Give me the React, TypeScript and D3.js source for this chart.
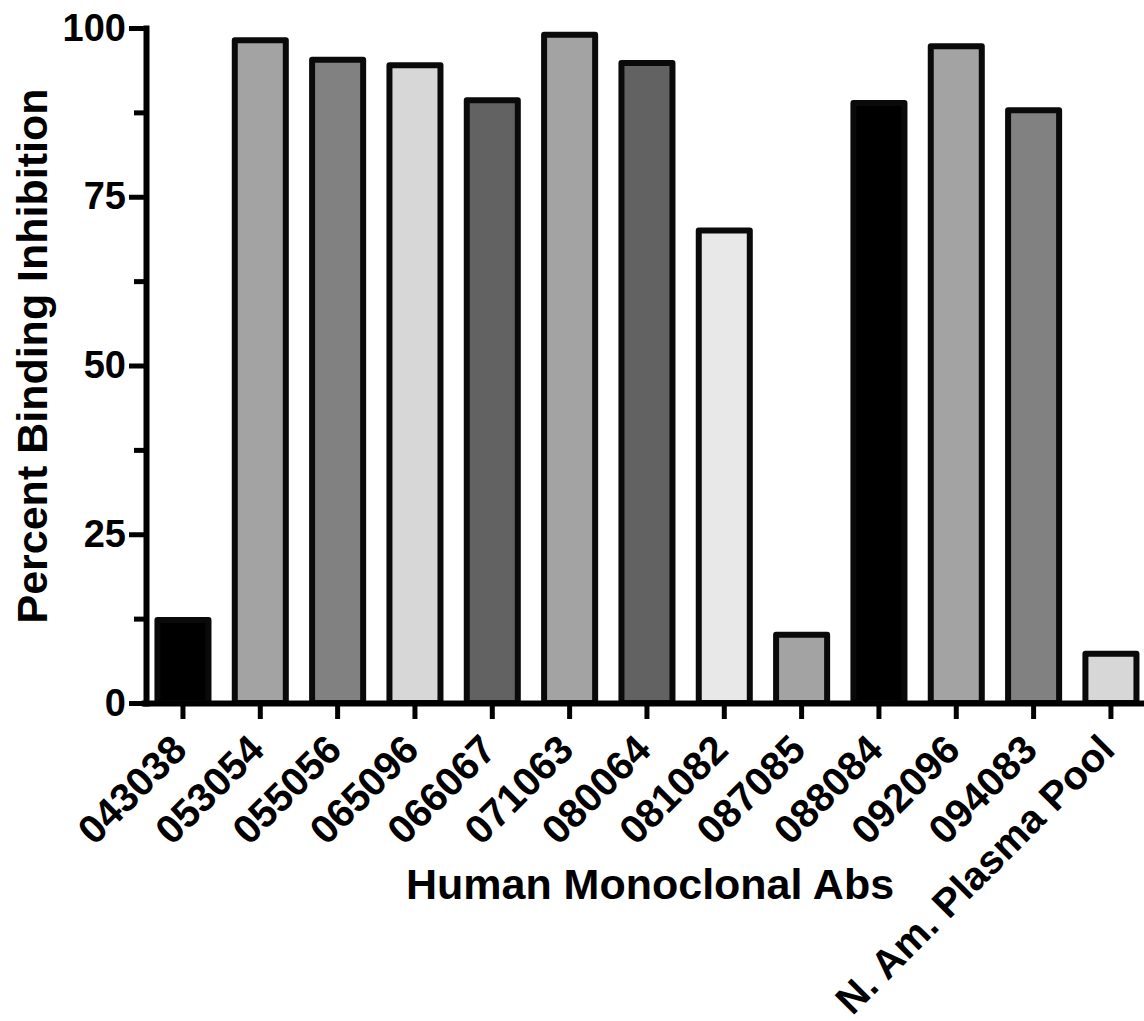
import React, { useEffect, useRef } from 'react'
import * as d3 from 'd3'

// antibodies on the x axis, percent binding inhibition
const antibodies = [
  '043038', '053054', '055056', '065096', '066067', '071063', '080064',
  '081082', '087085', '088084', '092096', '094083', 'N. Am. Plasma Pool',
]
const inhibition = [12.3, 98.2, 95.3, 94.5, 89.3, 99.0, 94.8, 70.0, 10.1, 88.9, 97.3, 87.8, 7.3]
const barFills = [
  '#000000', '#a3a3a3', '#818181', '#d7d7d7', '#626262', '#a3a3a3', '#626262',
  '#e8e8e8', '#a3a3a3', '#000000', '#a3a3a3', '#818181', '#d7d7d7',
]
const yTicks = [0, 25, 50, 75, 100]
const yMinorTicks = [12.5, 37.5, 62.5, 87.5]

const font = '"Liberation Sans", Arial, sans-serif'

const App = () => {
  const ref = useRef<SVGSVGElement | null>(null)

  useEffect(() => {
    document.body.style.margin = '0'
    const svg = d3.select(ref.current)
    svg.selectAll('*').remove()

    const width = 1144
    const height = 1021
    const axisX = 146
    const axisY = 703

    const xScale = d3.scaleBand()
      .domain(antibodies)
      .range([144.3, 1149.6])
      .paddingInner(0.34)
      .paddingOuter(0.17)

    const yScale = d3.scaleLinear()
      .domain([0, 100])
      .range([axisY, 28])

    svg.attr('width', width).attr('height', height)

    // bars
    svg.append('g')
      .selectAll('rect')
      .data(inhibition)
      .join('rect')
      .attr('x', (d, i) => xScale(antibodies[i]))
      .attr('y', d => yScale(d))
      .attr('width', xScale.bandwidth())
      .attr('height', d => yScale(0) - yScale(d))
      .attr('fill', (d, i) => barFills[i])
      .attr('stroke', '#0a0a0a')
      .attr('stroke-width', 6)
      .attr('stroke-linejoin', 'round')

    // y axis
    const yAxis = svg.append('g')
      .attr('transform', `translate(${axisX},0)`)
      .call(d3.axisLeft(yScale).tickValues(yTicks).tickSize(17).tickSizeOuter(0).tickPadding(3))
    yAxis.select('.domain').attr('stroke', '#000').attr('stroke-width', 6).attr('stroke-linecap', 'square')
    yAxis.selectAll('.tick line').attr('stroke', '#000').attr('stroke-width', 5)
    yAxis.selectAll('.tick text')
      .attr('font-family', font)
      .attr('font-weight', 'bold')
      .attr('font-size', 38)
      .attr('fill', '#000')

    const yMinor = svg.append('g')
      .attr('transform', `translate(${axisX},0)`)
      .call(d3.axisLeft(yScale).tickValues(yMinorTicks).tickSize(12).tickSizeOuter(0).tickFormat(() => ''))
    yMinor.select('.domain').remove()
    yMinor.selectAll('.tick line').attr('stroke', '#000').attr('stroke-width', 5)

    // x axis
    const xAxis = svg.append('g')
      .attr('transform', `translate(0,${axisY})`)
      .call(d3.axisBottom(xScale).tickSize(16).tickSizeOuter(0).tickFormat(() => ''))
    xAxis.select('.domain').attr('stroke', '#000').attr('stroke-width', 6).attr('stroke-linecap', 'square')
    xAxis.selectAll('.tick line').attr('stroke', '#000').attr('stroke-width', 5)

    svg.append('g')
      .selectAll('text')
      .data(antibodies)
      .join('text')
      .attr('transform', d => `translate(${xScale(d) + xScale.bandwidth() / 2 + 6},${axisY + 49}) rotate(-45)`)
      .attr('text-anchor', 'end')
      .attr('font-family', font)
      .attr('font-weight', 'bold')
      .attr('font-size', 40)
      .attr('fill', '#000')
      .text(d => d)

    // axis titles
    svg.append('text')
      .attr('transform', `translate(47,356) rotate(-90)`)
      .attr('text-anchor', 'middle')
      .attr('font-family', font)
      .attr('font-weight', 'bold')
      .attr('font-size', 43)
      .attr('fill', '#000')
      .text('Percent Binding Inhibition')

    svg.append('text')
      .attr('x', 650)
      .attr('y', 899)
      .attr('text-anchor', 'middle')
      .attr('font-family', font)
      .attr('font-weight', 'bold')
      .attr('font-size', 43)
      .attr('fill', '#000')
      .text('Human Monoclonal Abs')
  }, [])

  return (
    <svg ref={ref} style={{ display: 'block', background: '#fff' }} />
  )
}

export default App
